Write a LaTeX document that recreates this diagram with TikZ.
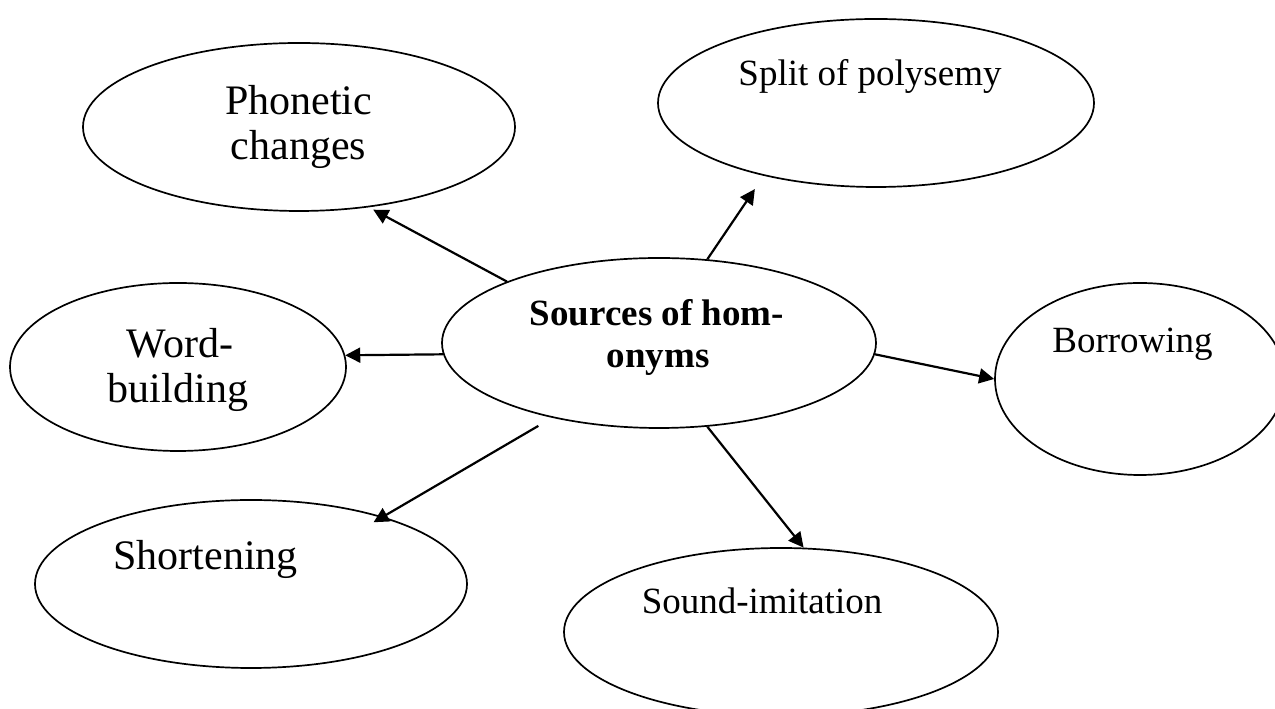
\documentclass[tikz,border=0pt]{standalone}
\usepackage{fontspec}
\setmainfont{Liberation Serif}
\usetikzlibrary{shapes.geometric,arrows.meta}
\begin{document}
\begin{tikzpicture}[x=1pt,y=1pt,
  bubble/.style={draw, ellipse, line width=1.7pt, inner sep=0pt},
  bigtext/.style={anchor=base, inner sep=0pt, font=\fontsize{42}{45}\selectfont},
  smalltext/.style={anchor=base, inner sep=0pt, font=\fontsize{37}{42}\selectfont},
  link/.style={line width=2.2pt, -{Triangle[length=15pt,width=15pt]}}]
\useasboundingbox (0,0) rectangle (1275,709);
\clip (0,0) rectangle (1275,709);

% ellipses
\node[bubble, minimum width=432pt, minimum height=168pt] (ph)  at (299,582) {};
\node[bubble, minimum width=436pt, minimum height=168pt] (sp)  at (876,606) {};
\node[bubble, minimum width=434pt, minimum height=170pt] (src) at (659,366) {};
\node[bubble, minimum width=336pt, minimum height=168pt] (wb)  at (178,342) {};
\node[bubble, minimum width=290pt, minimum height=192pt] (bo)  at (1140,330) {};
\node[bubble, minimum width=432pt, minimum height=168pt] (sh)  at (251,125) {};
\node[bubble, minimum width=434pt, minimum height=168pt] (si)  at (781,77) {};

% labels
\node[bigtext] (phA) at (298.5,594) {Phonetic};
\node[bigtext] (phB) at (298.5,549) {changes};
\node[smalltext] (spA) at (870,623) {Split of polysemy};
\node[smalltext, font=\fontsize{37}{42}\selectfont\bfseries] (srcA) at (657,383) {Sources of hom-};
\node[smalltext, font=\fontsize{37}{42}\selectfont\bfseries] (srcB) at (658,341) {onyms};
\node[bigtext] (wbA) at (180,351) {Word-};
\node[bigtext] (wbB) at (178,306) {building};
\node[smalltext] (boA) at (1132.5,356) {Borrowing};
\node[bigtext] (shA) at (205.5,139) {Shortening};
\node[smalltext] (siA) at (762,95) {Sound-imitation};

% connectors
\draw[link, shorten >=5pt] (src.158) -- (ph.311);
\draw[link, shorten >=16pt] (src.60) -- (sp.213);
\draw[link] (src.183) -- (wb.4);
\draw[link] (src.357) -- (bo.180);
\draw[link, shorten <=16pt, shorten >=-11pt] (src.215) -- (sh.27);
\draw[link] (src.300) -- (si.75);
\end{tikzpicture}
\end{document}
